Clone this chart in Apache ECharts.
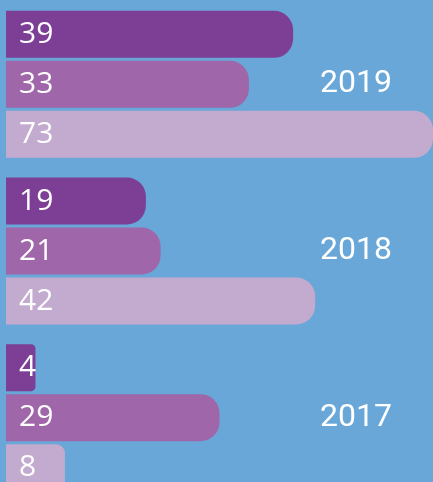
<!DOCTYPE html>
<html>
<head>
<meta charset="utf-8">
<title>Bars by year</title>
<script src="https://cdn.jsdelivr.net/npm/echarts@6/dist/echarts.min.js"></script>
<style>
  html, body { margin: 0; padding: 0; background: #68a7d7; }
  #chart { width: 433px; height: 482px; }
</style>
</head>
<body>
<div id="chart"></div>
<script>
// data
const years = ['2019', '2018', '2017'];
const darkValues = [39, 19, 4];
const midValues = [33, 21, 29];
const lightValues = [73, 42, 8];

const colors = ['#7d3f96', '#9f67aa', '#c3aacf'];

const chart = echarts.init(document.getElementById('chart'));

// rounded right end, smaller on the short bars
const toItems = (arr) => arr.map(v => {
  const r = Math.min(19, v * 1.1);
  return { value: v, itemStyle: { borderRadius: [0, r, r, 0] } };
});

// the year labels are not quite centred on their groups: [dx, dy]
const yearNudge = [[0, -5], [5, 3], [0, -8]];

const makeSeries = (arr, color) => ({
  type: 'bar',
  data: toItems(arr),
  barWidth: 47,
  barGap: '6.4%',
  clip: true,
  itemStyle: { color: color },
  label: {
    show: true,
    position: 'insideLeft',
    distance: 13,
    color: '#fff',
    fontSize: 30,
    fontFamily: 'Open Sans',
    formatter: '{c}'
  }
});

const option = {
  animation: false,
  backgroundColor: '#68a7d7',
  grid: { left: 6, right: 0, top: 1, height: 500, outerBoundsMode: 'none' },
  xAxis: {
    type: 'value',
    min: 0,
    max: 58,
    show: false
  },
  yAxis: {
    type: 'category',
    data: years.map((y, i) => {
      const [dx, dy] = yearNudge[i];
      return {
        value: y,
        textStyle: {
          padding: [Math.max(0, dy) * 2, Math.max(0, -dx) * 2, Math.max(0, -dy) * 2, Math.max(0, dx) * 2]
        }
      };
    }),
    inverse: true,
    position: 'right',
    axisLine: { show: false },
    axisTick: { show: false },
    splitLine: { show: false },
    axisLabel: {
      inside: true,
      margin: 41,
      color: '#fff',
      fontSize: 32,
      fontFamily: 'Roboto'
    }
  },
  series: [
    makeSeries(darkValues, colors[0]),
    makeSeries(midValues, colors[1]),
    makeSeries(lightValues, colors[2])
  ]
};

chart.setOption(option);
</script>
</body>
</html>
